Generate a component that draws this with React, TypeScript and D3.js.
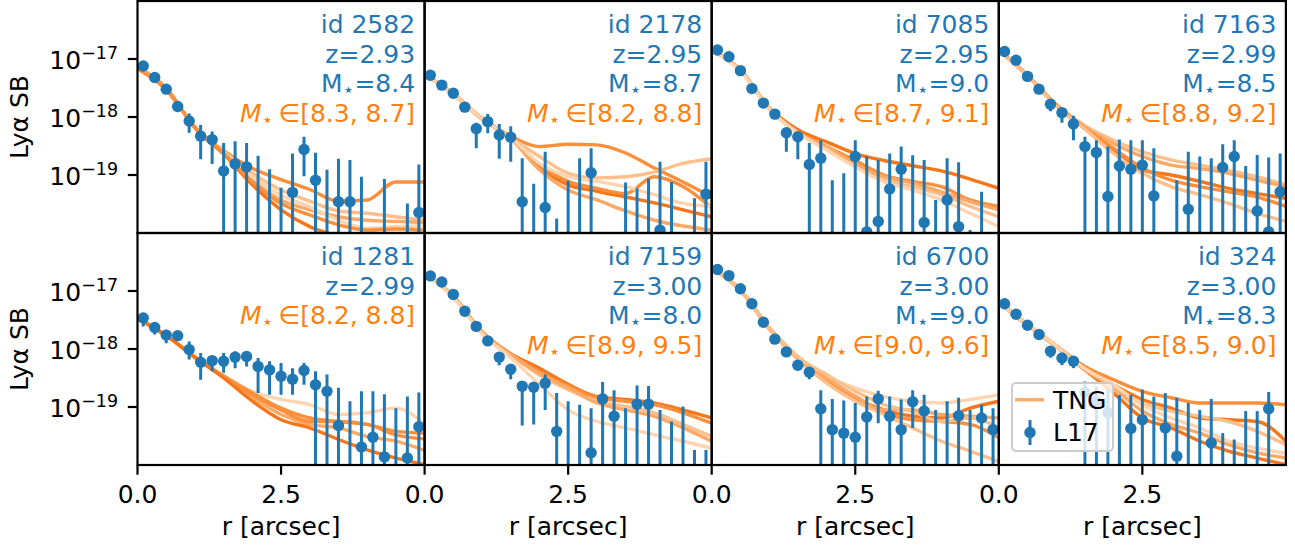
import React from 'react';
import * as d3 from 'd3';

// ---------- shared grids ----------
const rPts = [0.1, 0.3, 0.5, 0.7, 0.9, 1.1, 1.3, 1.5, 1.7, 1.9, 2.1, 2.3, 2.5, 2.7, 2.9, 3.1, 3.3, 3.5, 3.7, 3.9, 4.1, 4.3, 4.5, 4.7, 4.9];
const rTng = [0, 0.5, 1, 1.5, 2, 2.5, 3, 3.5, 4, 4.5, 5];
const xTicks = [0, 2.5];
const yTicks = [-17, -18, -19];

// ---------- panel labels ----------
const ids = ['2582', '2178', '7085', '7163', '1281', '7159', '6700', '324'];
const redshifts = ['2.93', '2.95', '2.95', '2.99', '2.99', '3.00', '3.00', '3.00'];
const mStars = ['8.4', '8.7', '9.0', '8.5', null, '8.0', '9.0', '8.3'];
const mRanges = ['[8.3, 8.7]', '[8.2, 8.8]', '[8.7, 9.1]', '[8.8, 9.2]', '[8.2, 8.8]', '[8.9, 9.5]', '[9.0, 9.6]', '[8.5, 9.0]'];

// ---------- L17 data: log10 SB, upper / lower error ends (null lower = below axis) ----------
const sb2582 = [-17.12, -17.32, -17.52, -17.82, -18.07, -18.33, -18.39, -18.93, -18.81, -18.86, null, null, null, -19.30, -18.56, -19.09, null, -19.46, -19.46, null, null, null, null, null, -19.645];
const hi2582 = [-17.09, -17.29, -17.49, -17.78, -17.94, -18.14, -18.25, -18.45, -18.42, -18.45, -18.67, -18.90, -19.22, -18.63, -18.34, -18.615, -18.91, -18.72, -18.74, -19.03, null, -19.07, null, -19.49, -18.82];
const lo2582 = [-17.15, -17.35, -17.56, -17.87, -18.27, -18.73, -18.81, null, null, null, null, null, null, null, -19.02, null, null, null, null, null, null, null, null, null, null];

const sb2178 = [-17.28, -17.45, -17.59, -17.83, -18.20, -18.08, -18.31, -18.35, -19.46, null, -19.56, null, null, null, -18.96, null, null, null, null, null, -19.95, null, null, null, -19.33];
const hi2178 = [-17.25, -17.42, -17.56, -17.79, -18.10, -17.95, -18.12, -18.16, -18.71, -19.15, -18.60, -19.75, -19.10, -18.71, -18.54, null, null, -19.13, -19.23, -19.06, -18.77, -19.12, null, -19.40, -18.77];
const lo2178 = [-17.31, -17.48, -17.62, -17.90, -18.54, -18.28, -18.72, -18.77, null, null, null, null, null, null, null, null, null, null, null, null, null, null, null, null, null];

const sb7085 = [-16.845, -16.96, -17.20, -17.51, -17.76, -17.95, -18.27, -18.34, -18.82, -18.71, null, null, -18.68, -19.98, -19.80, -19.24, -18.90, null, -19.82, null, -19.43, -19.89, null, null, null];
const hi7085 = [-16.82, -16.93, -17.17, -17.48, -17.73, -17.91, -18.22, -18.28, -18.45, -18.40, -19.09, -18.97, -18.40, -18.68, -18.74, -18.63, -18.51, -18.66, -18.74, -19.43, -18.71, -18.78, -19.95, -19.29, null];
const lo7085 = [-16.87, -16.99, -17.23, -17.54, -17.80, -18.00, -18.60, -18.73, null, null, null, null, null, null, null, null, null, null, null, null, null, null, null, null, null];

const sb7163 = [-16.87, -17.02, -17.30, -17.52, -17.78, -17.925, -18.12, -18.51, -18.61, -19.37, -18.845, -18.90, -18.83, -19.36, null, null, -19.59, null, null, -18.87, -18.68, null, -19.62, -19.98, -19.29];
const hi7163 = [-16.84, -16.99, -17.27, -17.49, -17.74, -17.85, -17.98, -18.34, -18.40, -18.51, -18.39, -18.40, -18.40, -18.54, null, -19.09, -18.60, -18.68, -18.71, -18.47, -18.40, -18.845, -18.655, -18.70, -18.63];
const lo7163 = [-16.90, -17.05, -17.33, -17.55, -17.90, -18.10, -18.40, null, null, null, null, null, null, null, null, null, null, null, null, null, null, null, null, null, null];

const sb1281 = [-17.465, -17.63, -17.76, -17.77, -18.01, -18.23, -18.20, -18.21, -18.14, -18.13, -18.30, -18.36, -18.47, -18.52, -18.37, -18.615, -18.73, -19.32, null, -19.69, -19.52, -19.86, null, -19.88, -19.34];
const hi1281 = [-17.38, -17.55, -17.67, -17.72, -17.87, -18.07, -18.13, -18.07, -18.04, -18.04, -18.155, -18.21, -18.24, -18.33, -18.24, -18.385, -18.44, -18.67, -18.90, -18.73, -18.73, -18.78, -19.02, -18.82, -18.75];
const lo1281 = [-17.61, -17.75, -17.90, -17.82, -18.18, -18.53, -18.385, -18.41, -18.33, -18.30, -18.76, -18.79, -18.79, -18.79, -18.615, null, null, null, null, null, null, null, null, null, null];

const sb7159 = [-16.74, -16.845, -17.06, -17.35, -17.61, -17.86, -18.14, -18.35, -18.64, -18.66, -18.59, -19.42, null, null, -19.79, -18.86, -19.16, null, -18.95, -18.95, null, null, null, null, null];
const hi7159 = [-16.71, -16.82, -17.03, -17.32, -17.58, -17.83, -18.08, -18.26, -18.56, -18.58, -18.44, -18.76, -18.90, -18.96, -19.02, -18.57, -18.71, -19.02, -18.63, -18.64, -19.05, -19.25, -18.99, -19.74, -19.74];
const lo7159 = [-16.77, -16.87, -17.09, -17.38, -17.64, -17.89, -18.28, -18.52, -19.32, -19.30, -19.05, null, null, null, null, null, null, null, null, null, null, null, null, null, null];

const sb6700 = [-16.63, -16.735, -16.96, -17.22, -17.54, -17.83, -18.05, -18.28, -18.40, -19.03, -19.39, -19.45, -19.52, -19.17, -18.86, -19.16, -19.39, -18.91, -19.07, null, null, -19.15, null, -19.19, -19.39];
const hi6700 = [-16.60, -16.71, -16.93, -17.19, -17.51, -17.80, -18.02, -18.24, -18.36, -18.71, -18.86, -18.89, -18.93, -18.82, -18.72, -18.82, -18.87, -18.71, -18.79, -19.05, -18.90, -18.84, -19.05, -18.96, -19.02];
const lo6700 = [-16.66, -16.76, -16.99, -17.25, -17.57, -17.86, -18.08, -18.32, -18.52, null, null, null, null, null, -19.28, null, null, -19.36, null, null, null, null, null, null, null];

const sb324 = [-17.22, -17.40, -17.59, -17.75, -18.04, -18.155, -18.21, -18.75, -18.90, -19.10, null, -19.37, -19.22, null, -19.36, -19.85, null, null, -19.62, null, null, null, null, -19.03, null];
const hi324 = [-17.19, -17.37, -17.56, -17.72, -17.97, -18.08, -18.13, -18.56, -18.65, -18.70, -18.79, -18.79, -18.70, -18.82, -18.76, -18.84, -18.93, -19.05, -18.86, -19.45, -19.56, -19.07, -19.07, -18.74, null];
const lo324 = [-17.25, -17.43, -17.62, -17.78, -18.15, -18.28, -18.33, null, null, null, null, null, null, null, null, null, null, null, null, null, null, null, null, null, null];

// ---------- TNG profiles: log10 SB at rTng ----------
const tng2582 = [
  [-17.16, -17.52, -18.17, -18.58, -18.885, -19.08, -19.25, -19.45, -19.43, -19.12, -19.12],
  [-17.16, -17.52, -18.17, -18.60, -18.97, -19.26, -19.45, -19.62, -19.66, -19.72, -19.78],
  [-17.14, -17.50, -18.19, -18.64, -19.17, -19.60, -19.89, -20.06, -20.2, -20.3, -20.4],
  [-17.16, -17.52, -18.17, -18.61, -19.09, -19.43, -19.60, -19.72, -19.78, -19.80, -19.82],
  [-17.16, -17.53, -18.18, -18.60, -19.03, -19.35, -19.55, -19.78, -19.92, -19.89, -19.88],
  [-17.17, -17.53, -18.18, -18.62, -19.12, -19.49, -19.69, -19.86, -19.95, -19.93, -19.95],
];
const tng2178 = [
  [-17.26, -17.60, -18.02, -18.33, -18.51, -18.47, -18.48, -18.62, -18.88, -19.12, -19.38],
  [-17.27, -17.60, -18.03, -18.36, -18.68, -18.97, -19.05, -19.03, -18.95, -18.80, -18.72],
  [-17.26, -17.61, -18.03, -18.36, -18.86, -19.17, -19.28, -19.38, -19.48, -19.60, -19.72],
  [-17.27, -17.61, -18.04, -18.37, -18.91, -19.26, -19.43, -19.62, -19.78, -19.88, -19.95],
  [-17.26, -17.60, -18.03, -18.36, -18.83, -19.11, -19.23, -19.32, -19.03, -19.20, -19.57],
  [-17.27, -17.61, -18.03, -18.36, -18.80, -19.03, -19.11, -19.20, -19.34, -19.49, -19.54],
];
const tng7085 = [
  [-16.845, -17.19, -17.84, -18.22, -18.43, -18.63, -18.75, -18.84, -18.93, -19.07, -19.23],
  [-16.85, -17.19, -17.85, -18.26, -18.51, -18.75, -19.00, -19.11, -19.20, -19.43, -19.54],
  [-16.85, -17.20, -17.86, -18.27, -18.54, -18.84, -19.09, -19.20, -19.34, -19.54, -19.72],
  [-16.85, -17.19, -17.85, -18.27, -18.51, -18.81, -19.03, -19.14, -19.29, -19.46, -19.60],
  [-16.86, -17.20, -17.86, -18.28, -18.57, -18.86, -19.12, -19.26, -19.43, -19.66, -19.89],
];
const tng7163 = [
  [-16.845, -17.28, -17.78, -18.15, -18.40, -18.60, -18.74, -18.83, -18.92, -19.03, -19.17],
  [-16.85, -17.28, -17.79, -18.18, -18.46, -18.68, -18.83, -18.89, -18.97, -19.09, -19.20],
  [-16.85, -17.29, -17.80, -18.20, -18.57, -18.91, -19.00, -19.11, -19.23, -19.32, -19.40],
  [-16.85, -17.29, -17.80, -18.20, -18.54, -18.88, -19.09, -19.20, -19.29, -19.38, -19.54],
  [-16.86, -17.29, -17.81, -18.21, -18.63, -18.97, -19.20, -19.34, -19.49, -19.66, -19.80],
];
const tng1281 = [
  [-17.46, -17.76, -18.13, -18.45, -18.73, -18.87, -18.96, -19.13, -19.10, -19.02, -19.30],
  [-17.47, -17.77, -18.13, -18.47, -18.76, -19.02, -19.19, -19.25, -19.30, -19.42, -19.45],
  [-17.47, -17.77, -18.14, -18.49, -18.84, -19.13, -19.30, -19.36, -19.51, -19.59, -19.75],
  [-17.47, -17.77, -18.14, -18.48, -18.79, -19.05, -19.25, -19.25, -19.30, -19.48, -19.55],
  [-17.47, -17.77, -18.15, -18.50, -18.90, -19.22, -19.36, -19.56, -19.74, -19.88, -19.99],
];
const tng7159 = [
  [-16.69, -17.09, -17.70, -18.08, -18.33, -18.61, -18.82, -18.87, -18.93, -19.05, -19.19],
  [-16.69, -17.09, -17.71, -18.09, -18.39, -18.64, -18.84, -18.90, -18.96, -19.10, -19.28],
  [-16.70, -17.10, -17.72, -18.10, -18.45, -18.70, -18.90, -18.99, -19.10, -19.30, -19.51],
  [-16.70, -17.10, -17.72, -18.10, -18.42, -18.67, -18.93, -19.05, -19.16, -19.36, -19.59],
  [-16.71, -17.11, -17.74, -18.15, -18.61, -19.05, -19.25, -19.36, -19.48, -19.59, -19.71],
];
const tng6700 = [
  [-16.60, -16.98, -17.62, -18.12, -18.47, -18.67, -18.82, -18.90, -18.93, -18.87, -18.79],
  [-16.60, -16.98, -17.64, -18.16, -18.53, -18.84, -19.05, -19.16, -19.19, -19.02, -18.90],
  [-16.61, -16.99, -17.65, -18.17, -18.56, -18.87, -19.10, -19.22, -19.25, -19.30, -19.53],
  [-16.61, -16.99, -17.65, -18.18, -18.59, -18.90, -19.13, -19.36, -19.59, -19.76, -19.94],
  [-16.60, -16.98, -17.64, -18.16, -18.50, -18.81, -19.05, -19.05, -19.13, -19.16, -19.19],
  [-16.60, -16.98, -17.63, -18.14, -18.44, -18.73, -18.96, -19.08, -19.25, -19.19, -19.36],
];
const tng324 = [
  [-17.19, -17.58, -17.94, -18.30, -18.53, -18.73, -18.84, -18.93, -18.93, -18.93, -18.96],
  [-17.19, -17.58, -17.95, -18.33, -18.62, -18.87, -19.02, -19.19, -19.22, -19.25, -19.59],
  [-17.20, -17.58, -17.95, -18.34, -18.65, -18.93, -19.07, -19.16, -19.25, -19.42, -19.65],
  [-17.20, -17.59, -17.96, -18.36, -18.76, -19.19, -19.36, -19.59, -19.76, -19.88, -19.99],
  [-17.20, -17.59, -17.96, -18.35, -18.68, -19.07, -19.30, -19.45, -19.65, -19.79, -19.88],
  [-17.20, -17.58, -17.95, -18.34, -18.62, -18.97, -19.19, -19.36, -19.59, -19.71, -19.80],
];

// shade index of each TNG curve (0 = darkest)
const shade2582 = [1, 3, 0, 2, 4, 1];
const shade2178 = [1, 3, 0, 2, 1, 4];
const shade7085 = [0, 1, 3, 2, 4];
const shade7163 = [3, 2, 0, 1, 3];
const shade1281 = [4, 1, 2, 1, 0];
const shade7159 = [0, 1, 3, 2, 4];
const shade6700 = [4, 0, 1, 3, 2, 3];
const shade324 = [1, 0, 3, 0, 2, 4];

const sbList = [sb2582, sb2178, sb7085, sb7163, sb1281, sb7159, sb6700, sb324];
const hiList = [hi2582, hi2178, hi7085, hi7163, hi1281, hi7159, hi6700, hi324];
const loList = [lo2582, lo2178, lo7085, lo7163, lo1281, lo7159, lo6700, lo324];
const tngList = [tng2582, tng2178, tng7085, tng7163, tng1281, tng7159, tng6700, tng324];
const shadeList = [shade2582, shade2178, shade7085, shade7163, shade1281, shade7159, shade6700, shade324];

// ---------- styling ----------
const BLUE = '#1f77b4';
const ORANGE = '#ff7f0e';
const SHADES = ['#f7761a', '#fc8f3c', '#fda865', '#fdc08c', '#fed5b0'];
const FONT = 'DejaVu Sans, sans-serif';
const FS = 25;
const W = 1295, H = 549;
const X0 = 137.5, Y0 = 1;
const PW = 287.1, PH = 232;
const TICK = 9.7;

const x = d3.scaleLinear().domain([0, 5]).range([0, PW]);
const y = d3.scaleLog().domain([1e-20, 1e-16]).range([PH, 0]);
const yl = (v: number) => y(Math.pow(10, v));

const line = d3.line<[number, number]>()
  .x((d) => x(d[0]))
  .y((d) => yl(d[1]))
  .curve(d3.curveMonotoneX);

function Panel({ i }: { i: number }) {
  const col = i % 4, row = Math.floor(i / 4);
  const px = X0 + col * PW, py = Y0 + row * PH;
  const sb = sbList[i], hi = hiList[i], lo = loList[i];
  const tng = tngList[i], shade = shadeList[i];
  const clipId = `clip${i}`;
  const tx = PW - 9.5;
  const baseY = 32;
  const step = 29.5;
  return (
    <g transform={`translate(${px},${py})`}>
      <defs>
        <clipPath id={clipId}>
          <rect x={0} y={0} width={PW} height={PH} />
        </clipPath>
      </defs>
      <g clipPath={`url(#${clipId})`}>
        {tng.map((prof, j) => (
          <path key={j} d={line(rTng.map((r, k) => [r, prof[k]] as [number, number])) || ''}
            fill="none" stroke={SHADES[shade[j]]} strokeWidth={3.4} strokeLinejoin="round" />
        ))}
        {rPts.map((r, k) => {
          if (hi[k] === null) return null;
          const yTop = yl(hi[k] as number);
          const yBot = lo[k] === null ? PH + 5 : yl(lo[k] as number);
          return <line key={'e' + k} x1={x(r)} x2={x(r)} y1={yTop} y2={yBot} stroke={BLUE} strokeWidth={3} />;
        })}
        {rPts.map((r, k) => sb[k] === null ? null : (
          <circle key={'m' + k} cx={x(r)} cy={yl(sb[k] as number)} r={5.7} fill={BLUE} />
        ))}
      </g>
      <rect x={0} y={0} width={PW} height={PH} fill="none" stroke="#000" strokeWidth={2.2} />
      {row === 1 && xTicks.map((t) => (
        <g key={t}>
          <line x1={x(t)} x2={x(t)} y1={PH} y2={PH + TICK} stroke="#000" strokeWidth={2.2} />
          <text x={x(t)} y={PH + 38} textAnchor="middle" fontSize={FS} fontFamily={FONT}>{t.toFixed(1)}</text>
        </g>
      ))}
      {row === 1 && (
        <text x={PW / 2} y={PH + 70} textAnchor="middle" fontSize={FS} fontFamily={FONT}>r [arcsec]</text>
      )}
      {col === 0 && yTicks.map((t) => (
        <g key={t}>
          <line x1={-TICK} x2={0} y1={yl(t)} y2={yl(t)} stroke="#000" strokeWidth={2.2} />
          <text x={-19.4} y={yl(t) + 10} textAnchor="end" fontSize={FS} fontFamily={FONT}>
            10<tspan dy={-10.5} fontSize={17.5}>{'\u2212' + String(-t)}</tspan>
          </text>
        </g>
      ))}
      {col === 0 && (
        <text transform={`translate(${28 - X0},${PH / 2}) rotate(-90)`} textAnchor="middle" fontSize={FS} fontFamily={FONT}>Lyα SB</text>
      )}
      <g fontSize={FS} fontFamily={FONT} textAnchor="end">
        <text x={tx} y={baseY} fill={BLUE}>{'id ' + ids[i]}</text>
        <text x={tx} y={baseY + step} fill={BLUE}>{'z=' + redshifts[i]}</text>
        {mStars[i] !== null && (
          <text x={tx} y={baseY + 2 * step} fill={BLUE}>
            M<tspan fontSize={19} dy={4}>⋆</tspan><tspan dy={-4}>{'=' + mStars[i]}</tspan>
          </text>
        )}
        <text x={tx} y={baseY + (mStars[i] !== null ? 3 : 2) * step} fill={ORANGE}>
          <tspan fontStyle="italic">M</tspan><tspan fontSize={19} dy={4}>⋆</tspan><tspan dy={-4} dx={5}>{'∈' + mRanges[i]}</tspan>
        </text>
      </g>
    </g>
  );
}

function Legend() {
  return (
    <g>
      <rect x={1012} y={383} width={101} height={68} rx={4} fill="#fff" fillOpacity={0.8} stroke="#cccccc" strokeWidth={2} />
      <line x1={1015} x2={1044} y1={399.7} y2={399.7} stroke="#fdac6b" strokeWidth={3.5} />
      <text x={1053} y={408.5} fontSize={FS} fontFamily={FONT}>TNG</text>
      <line x1={1030} x2={1030} y1={420} y2={445} stroke={BLUE} strokeWidth={3} />
      <circle cx={1030} cy={432.5} r={5.7} fill={BLUE} />
      <text x={1053} y={441} fontSize={FS} fontFamily={FONT}>L17</text>
    </g>
  );
}

export default function App() {
  return (
    <svg width={W} height={H} viewBox={`0 0 ${W} ${H}`} style={{ position: 'absolute', left: 0, top: 0, background: '#fff' }}>
      <rect width={W} height={H} fill="#fff" />
      {ids.map((_, i) => <Panel key={i} i={i} />)}
      <Legend />
    </svg>
  );
}
